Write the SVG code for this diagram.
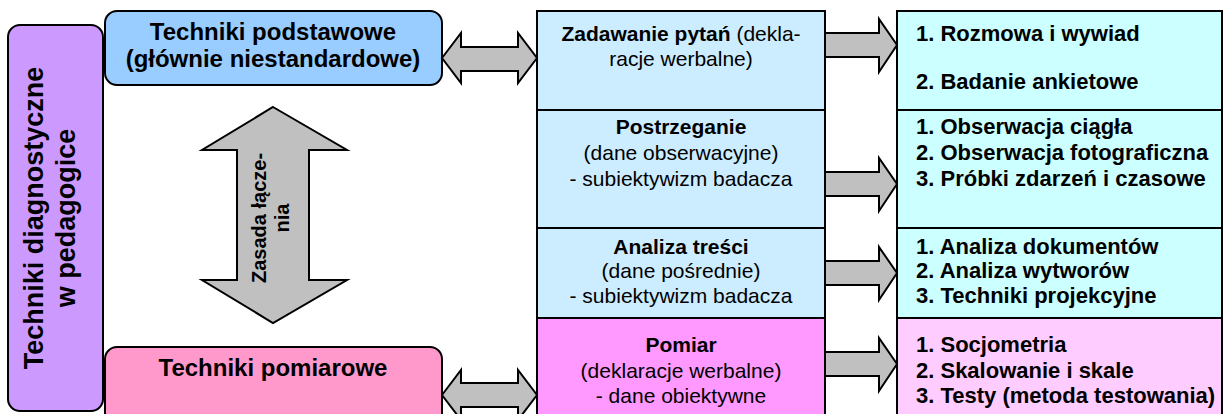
<svg xmlns="http://www.w3.org/2000/svg" width="1224" height="414" viewBox="0 0 1224 414">
<style>
.box{stroke:#000;stroke-width:2}
.arr{fill:#C0C0C0;stroke:#000;stroke-width:2;stroke-linejoin:miter}
text{font-family:"Liberation Sans",Arial,sans-serif;fill:#000}
.b{font-weight:bold}
.mid{font-size:21px;text-anchor:middle}
.rt{font-size:22px;font-weight:bold}
</style>
<rect width="1224" height="414" fill="#fff"/>
<g id="node-main">
<rect class="box" x="8" y="25" width="95" height="386" rx="12" fill="#CC99FF"/>
<text class="b" font-size="27" text-anchor="middle" transform="translate(43,218) rotate(-90)">Techniki diagnostyczne</text>
<text class="b" font-size="27" text-anchor="middle" transform="translate(75,218) rotate(-90)">w pedagogice</text>
</g>
<g id="node-podstawowe">
<rect class="box" x="105" y="11" width="337" height="74" rx="12" fill="#99CCFF"/>
<text class="b" font-size="24" text-anchor="middle" x="273" y="40">Techniki podstawowe</text>
<text class="b" font-size="24" text-anchor="middle" x="273" y="67">(głównie niestandardowe)</text>
</g>
<g id="node-pomiarowe">
<rect class="box" x="105" y="347" width="337" height="80" rx="12" fill="#FF99CC"/>
<text class="b" font-size="24" text-anchor="middle" x="273" y="376">Techniki pomiarowe</text>
</g>
<g id="node-pytania">
<rect class="box" x="537" y="11" width="288" height="99" fill="#CCECFF"/>
<text class="mid" x="681" y="41"><tspan font-weight="bold">Zadawanie pytań</tspan> (dekla-</text>
<text class="mid" x="681" y="66">racje werbalne)</text>
</g>
<g id="node-postrzeganie">
<rect class="box" x="537" y="110" width="288" height="118" fill="#CCECFF"/>
<text class="mid b" x="681" y="134">Postrzeganie</text>
<text class="mid" x="681" y="160">(dane obserwacyjne)</text>
<text class="mid" x="681" y="186">- subiektywizm badacza</text>
</g>
<g id="node-analiza">
<rect class="box" x="537" y="228" width="288" height="90" fill="#CCECFF"/>
<text class="mid b" x="681" y="254">Analiza treści</text>
<text class="mid" x="681" y="278">(dane pośrednie)</text>
<text class="mid" x="681" y="303">- subiektywizm badacza</text>
</g>
<g id="node-pomiar">
<rect class="box" x="537" y="318" width="288" height="110" fill="#FF99FF"/>
<text class="mid b" x="681" y="352">Pomiar</text>
<text class="mid" x="681" y="378">(deklaracje werbalne)</text>
<text class="mid" x="681" y="403">- dane obiektywne</text>
</g>
<g id="node-r1">
<rect class="box" x="897" y="11" width="325" height="99" fill="#CCFFFF"/>
<text class="rt" x="916" y="41">1. Rozmowa i wywiad</text>
<text class="rt" x="916" y="89">2. Badanie ankietowe</text>
</g>
<g id="node-r2">
<rect class="box" x="897" y="110" width="325" height="118" fill="#CCFFFF"/>
<text class="rt" x="916" y="134">1. Obserwacja ciągła</text>
<text class="rt" x="916" y="160">2. Obserwacja fotograficzna</text>
<text class="rt" x="916" y="186">3. Próbki zdarzeń i czasowe</text>
</g>
<g id="node-r3">
<rect class="box" x="897" y="228" width="325" height="90" fill="#CCFFFF"/>
<text class="rt" x="916" y="254">1. Analiza dokumentów</text>
<text class="rt" x="916" y="278">2. Analiza wytworów</text>
<text class="rt" x="916" y="303">3. Techniki projekcyjne</text>
</g>
<g id="node-r4">
<rect class="box" x="897" y="318" width="325" height="110" fill="#FFCCFF"/>
<text class="rt" x="916" y="352">1. Socjometria</text>
<text class="rt" x="916" y="378">2. Skalowanie i skale</text>
<text class="rt" x="916" y="403">3. Testy (metoda testowania)</text>
</g>
<g id="connectors">
<path class="arr" d="M442,58 L461,33 L461,47 L518,47 L518,33 L537,58 L518,83 L518,71 L461,71 L461,83 Z"/>
<path class="arr" d="M442,395 L461,370 L461,383 L518,383 L518,370 L537,395 L518,420 L518,407 L461,407 L461,420 Z"/>
<path class="arr" d="M273,107 L347,150 L309,150 L309,280 L347,280 L273,323 L202,280 L237,280 L237,150 L202,150 Z"/>
<text class="b" font-size="20" text-anchor="middle" transform="translate(266,218) rotate(-90)">Zasada łącze-</text>
<text class="b" font-size="20" text-anchor="middle" transform="translate(289,218) rotate(-90)">nia</text>
<path class="arr" d="M825,33 L879,33 L879,19 L897,45 L879,72 L879,57 L825,57 Z"/>
<path class="arr" d="M825,172 L879,172 L879,158 L897,184 L879,211 L879,196 L825,196 Z"/>
<path class="arr" d="M825,261 L879,261 L879,247 L897,273 L879,300 L879,285 L825,285 Z"/>
<path class="arr" d="M825,352 L879,352 L879,338 L897,364 L879,391 L879,376 L825,376 Z"/>
</g>
</svg>
